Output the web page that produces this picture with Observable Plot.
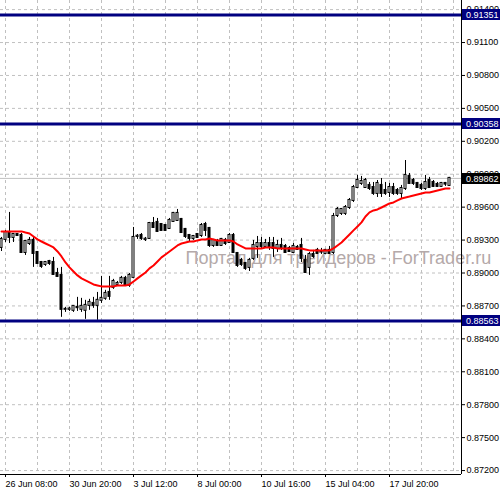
<!DOCTYPE html>
<html>
<head>
<meta charset="utf-8">
<script src="https://cdn.jsdelivr.net/npm/d3@7"></script>
<script src="https://cdn.jsdelivr.net/npm/@observablehq/plot@0.6"></script>
<style>
  html, body { margin: 0; padding: 0; background: #ffffff; }
  #chart { width: 501px; height: 494px; overflow: hidden; }
</style>
</head>
<body>
<div id="chart"></div>
<script>
// ---- Data (H4 candles, index 0 = 26 Jun 08:00; first candle is index -1) ----
const firstIndex = -1;

const open = [
  0.89233,
  0.89306,0.89360,0.89324,0.89351,0.89342,0.89187,0.89269,0.89297,0.89187,0.89096,
  0.89078,0.89105,0.89096,0.88996,0.88978,0.88669,0.88669,0.88660,0.88687,0.88669,
  0.88660,0.88705,0.88723,0.88705,0.88751,0.88769,0.88823,0.88869,0.88896,0.88914,
  0.88951,0.88887,0.88960,0.89333,0.89342,0.89306,0.89315,0.89451,0.89461,0.89442,
  0.89433,0.89406,0.89470,0.89479,0.89488,0.89397,0.89342,0.89315,0.89351,0.89342,
  0.89442,0.89406,0.89251,0.89287,0.89251,0.89297,0.89278,0.89342,0.89178,0.89115,
  0.89087,0.89051,0.89133,0.89242,0.89269,0.89242,0.89269,0.89269,0.89224,0.89251,
  0.89242,0.89224,0.89187,0.89233,0.89251,0.89115,0.89051,0.89169,0.89206,0.89196,
  0.89178,0.89206,0.89187,0.89524,0.89543,0.89543,0.89597,0.89661,0.89779,0.89816,
  0.89779,0.89798,0.89779,0.89725,0.89798,0.89752,0.89734,0.89779,0.89752,0.89725,
  0.89770,0.89880,0.89843,0.89816,0.89798,0.89770,0.89843,0.89825,0.89807,0.89789,
  0.89816,0.89798
];
const high = [
  0.89324,
  0.89388,0.89552,0.89360,0.89360,0.89360,0.89297,0.89324,0.89324,0.89196,0.89105,
  0.89105,0.89115,0.89142,0.89042,0.89051,0.88687,0.88687,0.88696,0.88778,0.88769,
  0.88751,0.88760,0.88778,0.88823,0.88969,0.88842,0.88969,0.88942,0.88923,0.88969,
  0.88969,0.88996,0.89415,0.89351,0.89360,0.89324,0.89461,0.89506,0.89497,0.89451,
  0.89442,0.89497,0.89552,0.89579,0.89497,0.89406,0.89351,0.89342,0.89360,0.89451,
  0.89461,0.89415,0.89306,0.89306,0.89315,0.89315,0.89360,0.89360,0.89187,0.89133,
  0.89096,0.89133,0.89297,0.89333,0.89324,0.89306,0.89324,0.89324,0.89297,0.89315,
  0.89260,0.89242,0.89269,0.89251,0.89315,0.89160,0.89187,0.89206,0.89224,0.89224,
  0.89215,0.89242,0.89543,0.89597,0.89588,0.89615,0.89679,0.89798,0.89889,0.89880,
  0.89861,0.89825,0.89825,0.89843,0.89861,0.89825,0.89816,0.89816,0.89770,0.89798,
  0.90025,0.89907,0.89861,0.89825,0.89816,0.89889,0.89871,0.89843,0.89825,0.89825,
  0.89825,0.89871
];
const low = [
  0.89196,
  0.89278,0.89269,0.89278,0.89333,0.89178,0.89160,0.89251,0.89051,0.89087,0.89042,
  0.89060,0.89069,0.88978,0.88960,0.88596,0.88641,0.88650,0.88641,0.88650,0.88641,
  0.88578,0.88660,0.88678,0.88569,0.88723,0.88751,0.88751,0.88851,0.88878,0.88896,
  0.88878,0.88869,0.88951,0.89306,0.89297,0.89287,0.89306,0.89406,0.89369,0.89388,
  0.89379,0.89397,0.89461,0.89470,0.89360,0.89315,0.89278,0.89297,0.89315,0.89324,
  0.89333,0.89233,0.89233,0.89242,0.89242,0.89251,0.89269,0.89178,0.89051,0.89060,
  0.89024,0.89014,0.89115,0.89133,0.89224,0.89224,0.89206,0.89142,0.89187,0.89206,
  0.89187,0.89187,0.89187,0.89206,0.89096,0.88996,0.88978,0.89133,0.89169,0.89169,
  0.89169,0.89169,0.89169,0.89506,0.89524,0.89524,0.89579,0.89643,0.89770,0.89798,
  0.89770,0.89752,0.89707,0.89688,0.89688,0.89707,0.89688,0.89707,0.89707,0.89679,
  0.89752,0.89807,0.89798,0.89770,0.89752,0.89752,0.89770,0.89779,0.89779,0.89779,
  0.89789,0.89789
];
const close = [
  0.89306,
  0.89369,0.89324,0.89351,0.89342,0.89187,0.89287,0.89297,0.89178,0.89087,0.89060,
  0.89096,0.89087,0.88987,0.88969,0.88669,0.88669,0.88672,0.88696,0.88684,0.88696,
  0.88705,0.88732,0.88705,0.88751,0.88769,0.88814,0.88787,0.88923,0.88905,0.88951,
  0.88887,0.88978,0.89324,0.89335,0.89315,0.89308,0.89451,0.89415,0.89379,0.89388,
  0.89388,0.89479,0.89543,0.89543,0.89369,0.89333,0.89315,0.89333,0.89324,0.89433,
  0.89388,0.89251,0.89297,0.89251,0.89306,0.89269,0.89342,0.89187,0.89069,0.89078,
  0.89042,0.89115,0.89251,0.89269,0.89242,0.89269,0.89233,0.89224,0.89251,0.89224,
  0.89187,0.89196,0.89242,0.89215,0.89133,0.89005,0.89169,0.89151,0.89178,0.89193,
  0.89206,0.89178,0.89515,0.89579,0.89579,0.89597,0.89661,0.89779,0.89843,0.89834,
  0.89843,0.89770,0.89725,0.89816,0.89725,0.89725,0.89779,0.89725,0.89725,0.89770,
  0.89889,0.89816,0.89816,0.89779,0.89770,0.89825,0.89779,0.89789,0.89789,0.89816,
  0.89810,0.89862
];
// red moving average
const movingAverage = [
  0.89379,
  0.89379,0.89379,0.89379,0.89379,0.89379,0.89369,0.89360,0.89333,0.89306,0.89287,
  0.89269,0.89251,0.89233,0.89196,0.89151,0.89096,0.89051,0.89014,0.88978,0.88951,
  0.88933,0.88914,0.88896,0.88887,0.88878,0.88878,0.88878,0.88878,0.88887,0.88887,
  0.88887,0.88896,0.88923,0.88951,0.88978,0.89005,0.89042,0.89069,0.89105,0.89142,
  0.89169,0.89196,0.89224,0.89251,0.89269,0.89278,0.89287,0.89287,0.89297,0.89306,
  0.89306,0.89315,0.89306,0.89297,0.89297,0.89297,0.89297,0.89287,0.89260,0.89242,
  0.89224,0.89224,0.89224,0.89224,0.89224,0.89233,0.89233,0.89233,0.89224,0.89224,
  0.89224,0.89224,0.89224,0.89224,0.89224,0.89215,0.89206,0.89206,0.89206,0.89206,
  0.89206,0.89206,0.89224,0.89251,0.89278,0.89315,0.89351,0.89388,0.89424,0.89461,
  0.89515,0.89552,0.89570,0.89579,0.89597,0.89615,0.89634,0.89643,0.89661,0.89679,
  0.89688,0.89697,0.89707,0.89716,0.89725,0.89734,0.89734,0.89743,0.89752,0.89761,
  0.89770,0.89770
];

// axis content
const timeTickIndex = [0, 16, 32, 48, 64, 80, 96];
const timeTickLabels = ["26 Jun 08:00", "30 Jun 20:00", "3 Jul 12:00", "8 Jul 00:00",
                        "10 Jul 16:00", "15 Jul 04:00", "17 Jul 20:00"];
const timeGridIndex = [0, 8, 16, 24, 32, 40, 48, 56, 64, 72, 80, 88, 96, 104, 112];
const priceTicks = [0.872, 0.875, 0.878, 0.881, 0.884, 0.887, 0.890, 0.893,
                    0.896, 0.899, 0.902, 0.905, 0.908, 0.911, 0.914];
const levelPrices = [0.91351, 0.90358, 0.88563];
const levelLabels = ["0.91351", "0.90358", "0.88563"];
const bidPrice = 0.89862;
const bidLabel = "0.89862";
const watermark = "Портал для трейдеров - ForTrader.ru";

// ---- build table ----
const candles = open.map((o, k) => ({
  i: firstIndex + k, o, h: high[k], l: low[k], c: close[k],
  top: Math.max(o, close[k]), bot: Math.min(o, close[k]), up: close[k] >= o
}));
const maData = movingAverage.map((v, k) => ({ i: firstIndex + k, v }));

const FONT = "'Liberation Sans', Arial, sans-serif";
const xMin = -1.25, xMax = 114;
const yMin = 0.87164, yMax = 0.91483;

const chart = Plot.plot({
  width: 501,
  height: 494,
  marginLeft: 0,
  marginRight: 40,
  marginTop: 0,
  marginBottom: 20,
  style: { fontFamily: FONT, fontSize: "9px", background: "#ffffff", color: "#000000" },
  x: { type: "linear", domain: [xMin, xMax], axis: null, label: null },
  y: { type: "linear", domain: [yMin, yMax], axis: null, label: null },
  marks: [
    Plot.gridY(priceTicks, { stroke: "#c0c0c0", strokeOpacity: 1, strokeDasharray: "3,3" }),
    Plot.gridX(timeGridIndex, { stroke: "#c0c0c0", strokeOpacity: 1, strokeDasharray: "3,3" }),
    Plot.text([watermark], {
      frameAnchor: "top-left", dx: 185, dy: 258, text: d => d,
      textAnchor: "start", lineAnchor: "middle",
      fontSize: 18, fontFamily: FONT, fill: "#b4a9a9"
    }),
    Plot.ruleY([bidPrice], { stroke: "#c0c0c0", strokeWidth: 1 }),
    Plot.ruleX(candles, { x: "i", y1: "l", y2: "h", stroke: "#000000", strokeWidth: 1 }),
    Plot.rect(candles, {
      x1: d => d.i - 0.25, x2: d => d.i + 0.25, y1: "bot", y2: "top",
      insetTop: -0.5, insetBottom: -0.5,
      fill: d => d.up ? "#ffffff" : "#000000", stroke: "#000000", strokeWidth: 1
    }),
    Plot.line(maData, { x: "i", y: "v", stroke: "#ff0000", strokeWidth: 2 }),
    Plot.ruleY(levelPrices, { stroke: "#000080", strokeWidth: 3 }),
    Plot.ruleX([xMax], { stroke: "#000000" }),
    Plot.ruleY([yMin], { stroke: "#000000" }),
    Plot.axisY(priceTicks, {
      anchor: "right", tickSize: 3, tickPadding: 2, label: null,
      tickFormat: d => d.toFixed(5), fontSize: 9, fill: "#000000"
    }),
    Plot.axisX(timeTickIndex, {
      anchor: "bottom", tickSize: 3, tickPadding: 3, textAnchor: "start", dx: 0, label: null,
      tickFormat: (d) => timeTickLabels[timeTickIndex.indexOf(d)],
      fontSize: 9, fill: "#000000"
    })
  ]
});

// price labels on the right axis, positioned with the chart's own y scale
const svg = d3.select(chart);
const yS = chart.scale("y");
const labelLayer = svg.append("g")
  .attr("font-family", FONT).attr("font-size", 9).attr("text-anchor", "start");
function priceBox(v, txt, bg) {
  const yy = yS.apply(v);
  labelLayer.append("rect").attr("x", 462).attr("y", Math.round(yy) - 5)
    .attr("width", 38).attr("height", 11).attr("fill", bg);
  labelLayer.append("text").attr("x", 466).attr("y", Math.round(yy) + 3.5)
    .attr("text-anchor", "start").attr("fill", "#ffffff").text(txt);
}
levelPrices.forEach((v, k) => priceBox(v, levelLabels[k], "#000080"));
priceBox(bidPrice, bidLabel, "#000000");

document.getElementById("chart").appendChild(chart);
</script>
</body>
</html>
